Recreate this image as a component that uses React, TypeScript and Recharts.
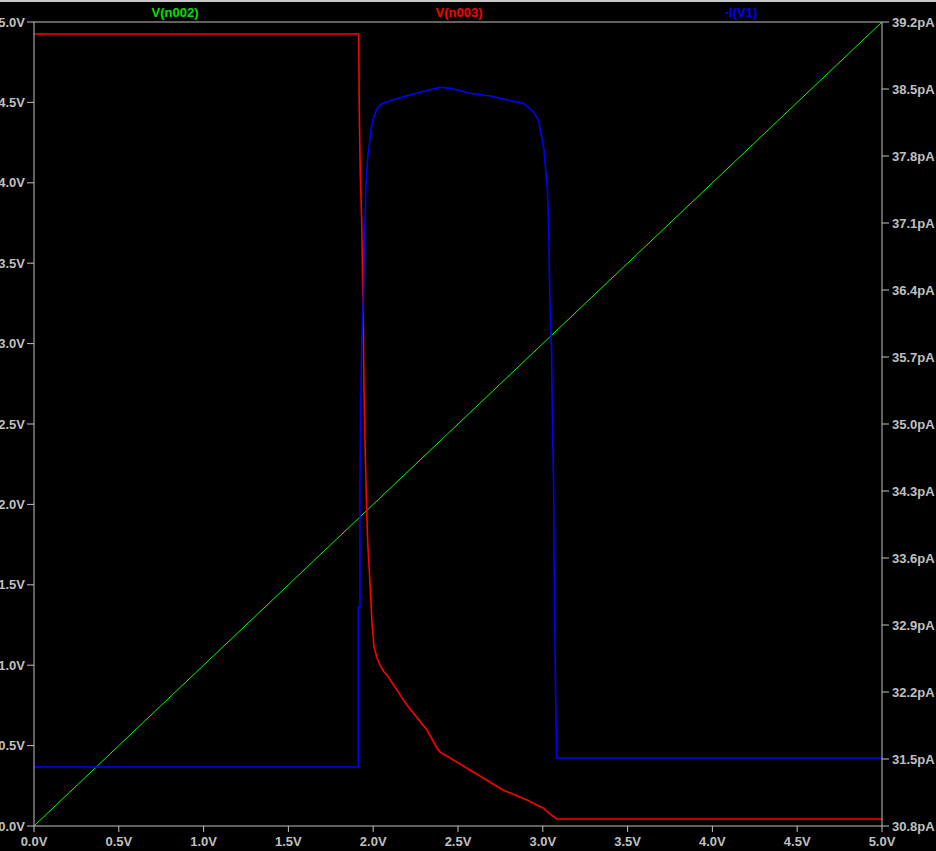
import React from "react";
import {
  LineChart,
  Line,
  XAxis,
  YAxis,
  ReferenceLine,
} from "recharts";

// Sweep voltage (x) ticks
const xTicks = [0, 0.5, 1, 1.5, 2, 2.5, 3, 3.5, 4, 4.5, 5];
const leftTicks = [0, 0.5, 1, 1.5, 2, 2.5, 3, 3.5, 4, 4.5, 5];
const rightTicks = [30.8, 31.5, 32.2, 32.9, 33.6, 34.3, 35.0, 35.7, 36.4, 37.1, 37.8, 38.5, 39.2];

// V(n002): the swept node voltage
const vn002 = [
  { x: 0, v: 0 },
  { x: 5, v: 5 },
];

// V(n003): output voltage
const vn003 = [
  { x: 0, v: 4.925 },
  { x: 1.9145, v: 4.925 },
  { x: 1.918, v: 4.44 },
  { x: 1.924, v: 4.04 },
  { x: 1.932, v: 3.77 },
  { x: 1.942, v: 3.115 },
  { x: 1.946, v: 2.7 },
  { x: 1.952, v: 2.38 },
  { x: 1.958, v: 2.108 },
  { x: 1.962, v: 1.947 },
  { x: 1.969, v: 1.735 },
  { x: 1.977, v: 1.592 },
  { x: 1.987, v: 1.387 },
  { x: 1.993, v: 1.262 },
  { x: 2.005, v: 1.113 },
  { x: 2.023, v: 1.045 },
  { x: 2.04, v: 1.001 },
  { x: 2.064, v: 0.958 },
  { x: 2.081, v: 0.939 },
  { x: 2.199, v: 0.752 },
  { x: 2.317, v: 0.597 },
  { x: 2.376, v: 0.485 },
  { x: 2.394, v: 0.46 },
  { x: 2.571, v: 0.348 },
  { x: 2.765, v: 0.224 },
  { x: 2.907, v: 0.162 },
  { x: 3.001, v: 0.112 },
  { x: 3.042, v: 0.075 },
  { x: 3.083, v: 0.044 },
  { x: 5, v: 0.044 },
];

// -I(V1): supply current in pA
const iv1 = [
  { x: 0, i: 31.416 },
  { x: 1.912, i: 31.416 },
  { x: 1.912, i: 33.088 },
  { x: 1.922, i: 33.088 },
  { x: 1.922, i: 34.384 },
  { x: 1.926, i: 35.178 },
  { x: 1.932, i: 35.804 },
  { x: 1.942, i: 36.327 },
  { x: 1.946, i: 36.713 },
  { x: 1.948, i: 37.027 },
  { x: 1.952, i: 37.131 },
  { x: 1.958, i: 37.518 },
  { x: 1.968, i: 37.793 },
  { x: 1.977, i: 37.915 },
  { x: 1.987, i: 38.072 },
  { x: 2.001, i: 38.197 },
  { x: 2.021, i: 38.291 },
  { x: 2.05, i: 38.343 },
  { x: 2.099, i: 38.378 },
  { x: 2.177, i: 38.42 },
  { x: 2.276, i: 38.466 },
  { x: 2.394, i: 38.518 },
  { x: 2.453, i: 38.507 },
  { x: 2.571, i: 38.455 },
  { x: 2.689, i: 38.427 },
  { x: 2.807, i: 38.378 },
  { x: 2.885, i: 38.351 },
  { x: 2.944, i: 38.263 },
  { x: 2.974, i: 38.176 },
  { x: 2.993, i: 38.002 },
  { x: 3.007, i: 37.863 },
  { x: 3.019, i: 37.622 },
  { x: 3.027, i: 37.445 },
  { x: 3.034, i: 37.13 },
  { x: 3.042, i: 36.275 },
  { x: 3.052, i: 35.752 },
  { x: 3.056, i: 35.115 },
  { x: 3.064, i: 34.342 },
  { x: 3.068, i: 33.318 },
  { x: 3.076, i: 32.116 },
  { x: 3.082, i: 31.51 },
  { x: 5, i: 31.51 },
];

const titles = [
  { label: "V(n002)", color: "#00e000", center: 175 },
  { label: "V(n003)", color: "#ff0000", center: 459 },
  { label: "-I(V1)", color: "#0000ff", center: 741 },
];

const FG = "#c0c0c0";
const FONT = "'Liberation Sans', Arial, sans-serif";
const tickStyle = { fill: FG, fontSize: 13, fontWeight: 700, fontFamily: FONT };

export default function App() {
  return (
    <div
      style={{
        position: "relative",
        width: 936,
        height: 851,
        background: "#000",
        overflow: "hidden",
        fontFamily: FONT,
      }}
    >
      <style>{`body{margin:0;background:#000;}`}</style>
      <div
        style={{
          position: "absolute",
          left: 0,
          top: 0,
          width: 936,
          height: 2,
          background: "#c8c8c8",
        }}
      />
      {titles.map((t) => (
        <div
          key={t.label}
          style={{
            position: "absolute",
            top: 5,
            left: t.center,
            transform: "translateX(-50%)",
            color: t.color,
            fontSize: 13,
            fontWeight: 700,
            lineHeight: "15px",
            whiteSpace: "nowrap",
          }}
        >
          {t.label}
        </div>
      ))}
      <LineChart
        width={936}
        height={851}
        margin={{ top: 22, right: 0, bottom: 0, left: 0 }}
        style={{ background: "transparent" }}
      >
        <XAxis
          type="number"
          dataKey="x"
          domain={[0, 5]}
          ticks={xTicks}
          interval={0}
          allowDataOverflow
          height={25}
          tickSize={6}
          tickMargin={5}
          tickFormatter={(v: number) => v.toFixed(1) + "V"}
          tick={tickStyle}
          stroke={FG}
          axisLine={{ stroke: FG }}
          tickLine={{ stroke: FG }}
        />
        <YAxis
          yAxisId="left"
          orientation="left"
          type="number"
          domain={[0, 5]}
          ticks={leftTicks}
          interval={0}
          allowDataOverflow
          width={34}
          tickSize={7}
          tickMargin={2}
          tickFormatter={(v: number) => v.toFixed(1) + "V"}
          tick={tickStyle}
          axisLine={{ stroke: FG }}
          tickLine={{ stroke: FG }}
        />
        <YAxis
          yAxisId="right"
          orientation="right"
          type="number"
          domain={[30.8, 39.2]}
          ticks={rightTicks}
          interval={0}
          allowDataOverflow
          width={54}
          tickSize={7}
          tickMargin={3}
          tickFormatter={(v: number) => v.toFixed(1) + "pA"}
          tick={tickStyle}
          axisLine={{ stroke: FG }}
          tickLine={{ stroke: FG }}
        />
        <ReferenceLine yAxisId="left" y={5} stroke={FG} strokeWidth={1} ifOverflow="extendDomain" />
        <Line
          yAxisId="left"
          data={vn002}
          dataKey="v"
          type="linear"
          stroke="#00ff00"
          strokeWidth={1}
          dot={false}
          isAnimationActive={false}
        />
        <Line
          yAxisId="left"
          data={vn003}
          dataKey="v"
          type="linear"
          stroke="#ff0000"
          strokeWidth={1.6}
          dot={false}
          isAnimationActive={false}
        />
        <Line
          yAxisId="right"
          data={iv1}
          dataKey="i"
          type="linear"
          stroke="#0000ff"
          strokeWidth={1.6}
          dot={false}
          isAnimationActive={false}
        />
      </LineChart>
    </div>
  );
}
